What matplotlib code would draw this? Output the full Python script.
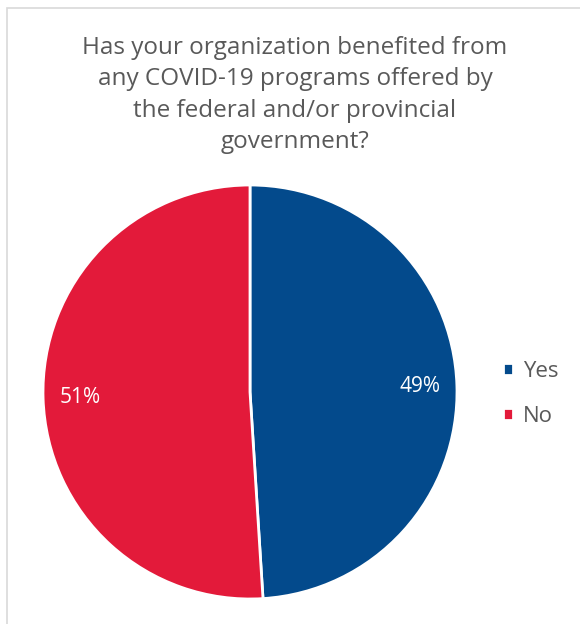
import matplotlib.pyplot as plt
from matplotlib.patches import Rectangle

# データ
labels = ['Yes', 'No']
values = [49, 51]
colors = ['#034A8C', '#E31A3A']
title = ('Has your organization benefited from\nany COVID-19 programs offered by\n'
         'the federal and/or provincial\ngovernment?')

plt.rcParams['font.family'] = ['Open Sans', 'DejaVu Sans']

fig = plt.figure(figsize=(5.8, 6.24), dpi=100)

# 枠線
fig.patches.append(Rectangle((7 / 580, -0.01), 1.0, 1 - 8 / 624 + 0.01, transform=fig.transFigure,
                             fill=False, edgecolor='#D9D9D9', linewidth=1.2))

ax = fig.add_axes([43 / 580, 25 / 624, 414 / 580, 414 / 624])
wedges, texts, autotexts = ax.pie(values, colors=colors, startangle=90, counterclock=False,
                                  autopct='%d%%', pctdistance=0.82,
                                  wedgeprops=dict(edgecolor='white', linewidth=2),
                                  textprops=dict(color='white', fontsize=15))
ax.set_xlim(-1, 1)
ax.set_ylim(-1, 1)
ax.set_aspect('equal')

fig.text(295 / 580, 1 - 95 / 624, title, ha='center', va='center', fontsize=17.5,
         color='#595959', linespacing=1.4)

leg = fig.legend(wedges, labels, loc='center left', bbox_to_anchor=(503 / 580, 1 - 394 / 624),
                 frameon=False, handlelength=0.45, handleheight=0.45, handletextpad=0.45,
                 labelspacing=1.05, fontsize=16, labelcolor='#595959', borderaxespad=0,
                 borderpad=0)

fig.savefig('out.png', dpi=100)
